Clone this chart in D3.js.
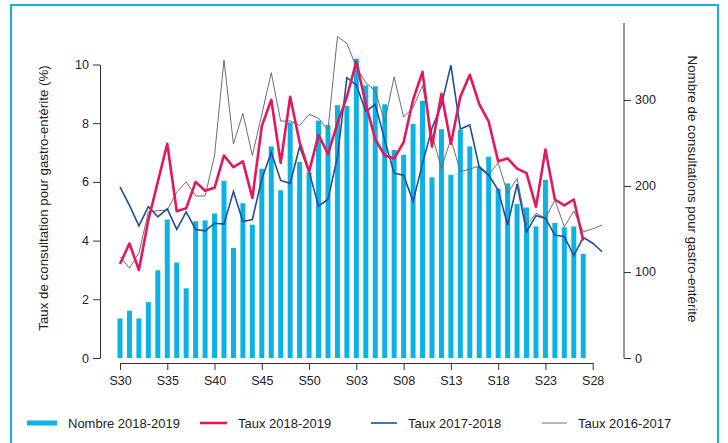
<!DOCTYPE html>
<html>
<head>
<meta charset="utf-8">
<script src="https://cdn.jsdelivr.net/npm/d3@7"></script>
<style>
  body { margin: 0; background: #fff; }
  text { font-family: "Liberation Sans", Arial, sans-serif; }
</style>
</head>
<body>
<script>
// semaines S30 -> S29
const weeks = ['S30','S31','S32','S33','S34','S35','S36','S37','S38','S39','S40','S41','S42','S43','S44','S45','S46','S47','S48','S49','S50','S51','S52',
  'S01','S02','S03','S04','S05','S06','S07','S08','S09','S10','S11','S12','S13','S14','S15','S16','S17','S18','S19','S20','S21','S22','S23','S24','S25','S26','S27','S28','S29']
const tickWeeks = ['S30','S35','S40','S45','S50','S03','S08','S13','S18','S23','S28']

// nombre de consultations 2018-2019 (axe droit)
const nombre1819 = [46,55,46,65,102,161,111,81,159,160,168,206,128,180,155,220,246,195,274,228,216,276,271,
  294,293,348,317,316,295,242,236,272,299,210,266,213,265,246,222,234,197,203,179,175,153,207,157,152,153,121]

// taux (%) axe gauche
const taux1819 = [3.2,3.9,3.0,4.7,6.0,7.3,5.0,5.1,6.0,5.7,5.8,6.9,6.5,6.7,5.45,7.9,8.8,6.65,8.9,7.35,6.35,7.6,6.95,
  8.0,8.9,10.1,8.65,7.45,6.9,6.8,7.35,8.8,9.75,7.2,9.0,7.3,8.9,9.65,8.65,8.05,6.7,6.8,6.45,6.3,5.15,7.1,5.4,5.2,5.4,4.0]
const taux1718 = [5.83,5.2,4.5,5.16,4.81,5.08,4.38,4.98,4.38,4.33,4.59,4.56,5.67,4.65,4.72,6.1,7.0,6.05,5.95,7.2,6.35,5.17,5.41,
  6.85,9.55,9.3,8.4,8.64,7.43,6.29,6.23,5.33,6.63,7.83,8.62,9.98,7.8,7.94,6.5,6.23,5.72,4.53,5.92,4.3,4.85,4.76,4.19,4.13,3.49,4.11,3.91,3.62]
const taux1617 = [3.45,3.06,3.57,4.98,5.02,5.04,5.65,6.0,5.52,5.52,6.9,10.15,7.29,8.34,6.9,8.3,9.72,8.07,8.08,7.92,8.3,8.17,7.77,
  10.95,10.72,9.9,9.38,9.1,8.05,9.58,8.21,8.53,9.28,7.63,6.46,7.46,6.36,6.43,6.55,6.25,6.65,5.61,6.12,4.53,4.93,4.76,5.38,4.47,5.01,4.3,4.4,4.53]

const leftTicks = [0,2,4,6,8,10]
const rightTicks = [0,100,200,300]

const box = {
  width: 728,
  height: 443
}
const svg = d3.select('body')
  .append('svg')
  .attr('width', box.width)
  .attr('height', box.height)

// cadre
svg.append('rect')
  .attr('x', 11).attr('y', 5)
  .attr('width', 707).attr('height', 470)
  .style('fill', 'none')
  .style('stroke', '#14aee0')
  .style('stroke-width', 2)

var x = d3.scaleLinear().domain([0, 50]).range([120, 592.7])
var yLeft = d3.scaleLinear().domain([0, 10]).range([358, 64.5])
var yRight = d3.scaleLinear().domain([0, 389.5]).range([358, 23])

// barres
svg.append('g')
  .selectAll('rect')
  .data(nombre1819)
  .enter().append('rect')
  .attr('x', (d, i) => x(i) - 2.5)
  .attr('width', 5)
  .attr('y', d => yRight(d))
  .attr('height', d => yRight(0) - yRight(d))
  .style('fill', '#0cb2e4')

var line = d3.line()
  .x((d, i) => x(i))
  .y(d => yLeft(d))

svg.append('path').datum(taux1617).attr('d', line)
  .style('fill', 'none').style('stroke', '#6e6e6e').style('stroke-width', 1)
svg.append('path').datum(taux1718).attr('d', line)
  .style('fill', 'none').style('stroke', '#1f4f9e').style('stroke-width', 1.6)
svg.append('path').datum(taux1819).attr('d', line)
  .style('fill', 'none').style('stroke', '#e3175c').style('stroke-width', 2.6)
  .style('stroke-linejoin', 'round')

// axes
var axL = svg.append('g')
  .attr('transform', 'translate(100,0)')
  .call(d3.axisLeft(yLeft).tickValues(leftTicks).tickSize(7).tickPadding(4).tickSizeOuter(0))
var axR = svg.append('g')
  .attr('transform', 'translate(624,0)')
  .call(d3.axisRight(yRight).tickValues(rightTicks).tickSize(7).tickPadding(4).tickSizeOuter(0))
var axB = svg.append('g')
  .attr('transform', 'translate(0,363)')
  .call(d3.axisBottom(x).tickValues(tickWeeks.map(w => weeks.indexOf(w)))
    .tickFormat(i => weeks[i]).tickSize(7).tickPadding(6).tickSizeOuter(0))

axR.select('.domain').attr('d', 'M0,' + yRight(389.5) + 'V' + yRight(0))
;[axL, axR, axB].forEach(a => {
  a.selectAll('text').style('font-size', '12.5px').style('fill', '#222')
  a.selectAll('line, path').style('stroke', '#333')
})

svg.append('text')
  .attr('transform', 'translate(48,198) rotate(-90)')
  .attr('text-anchor', 'middle')
  .style('font-size', '13.3px').style('fill', '#222')
  .text('Taux de consultation pour gastro-entérite (%)')
svg.append('text')
  .attr('transform', 'translate(688,189) rotate(90)')
  .attr('text-anchor', 'middle')
  .style('font-size', '13.3px').style('fill', '#222')
  .text('Nombre de consultations pour gastro-entérite')

// légende
const legend = [
  { name: 'Nombre 2018-2019', color: '#0cb2e4', w: 5, x0: 27, x1: 57 },
  { name: 'Taux 2018-2019', color: '#e3175c', w: 2.6, x0: 200, x1: 227 },
  { name: 'Taux 2017-2018', color: '#1f4f9e', w: 1.6, x0: 371, x1: 397 },
  { name: 'Taux 2016-2017', color: '#6e6e6e', w: 1, x0: 542, x1: 567 }
]
var lg = svg.append('g').selectAll('g').data(legend).enter().append('g')
lg.append('line')
  .attr('x1', d => d.x0).attr('x2', d => d.x1)
  .attr('y1', 423).attr('y2', 423)
  .style('stroke', d => d.color).style('stroke-width', d => d.w)
lg.append('text')
  .attr('x', d => d.x1 + 11).attr('y', 427.5)
  .style('font-size', '13px').style('fill', '#222')
  .text(d => d.name)
</script>
</body>
</html>
